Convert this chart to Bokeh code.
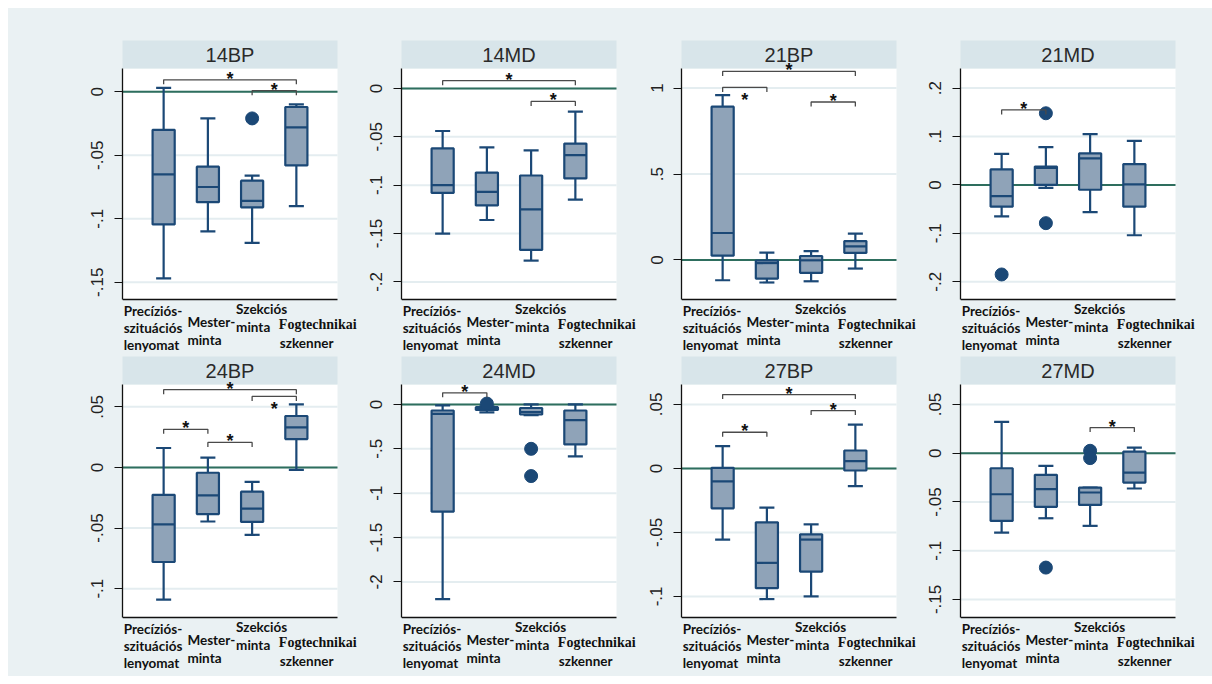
from bokeh.plotting import figure
from bokeh.layouts import row, column
from bokeh.models import Label, FixedTicker, Range1d
from bokeh.embed import file_html
from bokeh.resources import INLINE

# ---------------- data ----------------
PANELS = ["14BP", "14MD", "21BP", "21MD", "24BP", "24MD", "27BP", "27MD"]
CATEGORY_LINES = [["Precíziós-", "szituációs", "lenyomat"],
                  ["Mester-", "minta"],
                  ["Szekciós", "minta"],
                  ["Fogtechnikai", "szkenner"]]
CATS = [1, 2, 3, 4]

WHISKER_HIGH = {
    "14BP": [0.003, -0.021, -0.066, -0.010],
    "14MD": [-0.044, -0.061, -0.064, -0.024],
    "21BP": [0.959, 0.043, 0.052, 0.153],
    "21MD": [0.064, 0.078, 0.105, 0.091],
    "24BP": [0.016, 0.008, -0.012, 0.052],
    "24MD": [-0.010, -0.020, 0.000, 0.000],
    "27BP": [0.0174, -0.0307, -0.0437, 0.0343],
    "27MD": [0.0321, -0.0130, -0.0352, 0.0058],
}
Q3 = {
    "14BP": [-0.030, -0.059, -0.070, -0.012],
    "14MD": [-0.062, -0.087, -0.090, -0.057],
    "21BP": [0.892, -0.003, 0.023, 0.110],
    "21MD": [0.032, 0.038, 0.065, 0.043],
    "24BP": [-0.0226, -0.0044, -0.0200, 0.0424],
    "24MD": [-0.068, -0.030, -0.040, -0.068],
    "27BP": [0.0005, -0.0421, -0.0515, 0.0140],
    "27MD": [-0.0154, -0.0222, -0.0352, 0.0017],
}
MEDIAN = {
    "14BP": [-0.065, -0.075, -0.086, -0.028],
    "14MD": [-0.100, -0.107, -0.125, -0.069],
    "21BP": [0.157, -0.018, -0.002, 0.079],
    "21MD": [-0.023, 0.035, 0.055, 0.001],
    "24BP": [-0.047, -0.023, -0.034, 0.033],
    "24MD": [-0.105, -0.045, -0.085, -0.176],
    "27BP": [-0.0101, -0.0738, -0.0556, 0.0057],
    "27MD": [-0.0421, -0.0369, -0.0403, -0.0198],
}
Q1 = {
    "14BP": [-0.1045, -0.087, -0.091, -0.058],
    "14MD": [-0.108, -0.121, -0.167, -0.093],
    "21BP": [0.025, -0.108, -0.075, 0.041],
    "21MD": [-0.045, 0.000, -0.010, -0.045],
    "24BP": [-0.078, -0.0385, -0.045, 0.0234],
    "24MD": [-1.208, -0.062, -0.113, -0.450],
    "27BP": [-0.0312, -0.0936, -0.0806, -0.0016],
    "27MD": [-0.0694, -0.0550, -0.0530, -0.0301],
}
WHISKER_LOW = {
    "14BP": [-0.147, -0.110, -0.119, -0.090],
    "14MD": [-0.150, -0.136, -0.178, -0.115],
    "21BP": [-0.118, -0.131, -0.124, -0.050],
    "21MD": [-0.065, -0.006, -0.056, -0.104],
    "24BP": [-0.109, -0.0446, -0.0556, -0.002],
    "24MD": [-2.195, -0.090, -0.120, -0.585],
    "27BP": [-0.0556, -0.1021, -0.1000, -0.0138],
    "27MD": [-0.0814, -0.0667, -0.0745, -0.0362],
}
OUTLIER_CAT = {
    "14BP": [3], "14MD": [], "21BP": [], "21MD": [1, 2, 2],
    "24BP": [], "24MD": [2, 3, 3], "27BP": [], "27MD": [2, 3, 3],
}
OUTLIER_VAL = {
    "14BP": [-0.021], "14MD": [], "21BP": [], "21MD": [-0.185, 0.148, -0.079],
    "24BP": [], "24MD": [0.01, -0.50, -0.807], "27BP": [], "27MD": [-0.1173, 0.0025, -0.005],
}
# significance brackets: (from category, to category, height, star below the line?)
BRACKETS = {
    "14BP": [(1, 4, 0.0094, False), (3, 4, 0.0008, False)],
    "14MD": [(1, 4, 0.0080, False), (3, 4, -0.0134, False)],
    "21BP": [(1, 4, 1.097, False), (1, 2, 1.004, True), (3, 4, 0.919, False)],
    "21MD": [(1, 2, 0.155, False)],
    "24BP": [(1, 4, 0.0641, False), (3, 4, 0.0586, True), (1, 2, 0.0314, False), (2, 3, 0.0206, False)],
    "24MD": [(1, 2, 0.131, False)],
    "27BP": [(1, 4, 0.0577, False), (3, 4, 0.0452, False), (1, 2, 0.0283, False)],
    "27MD": [(3, 4, 0.0263, False)],
}
Y_TICKS = {
    "14BP": [-0.15, -0.1, -0.05, 0],
    "14MD": [-0.2, -0.15, -0.1, -0.05, 0],
    "21BP": [0, 0.5, 1],
    "21MD": [-0.2, -0.1, 0, 0.1, 0.2],
    "24BP": [-0.1, -0.05, 0, 0.05],
    "24MD": [-2, -1.5, -1, -0.5, 0],
    "27BP": [-0.1, -0.05, 0, 0.05],
    "27MD": [-0.15, -0.1, -0.05, 0, 0.05],
}
Y_LIMITS = {
    "14BP": (-0.1636, 0.0183),
    "14MD": (-0.2182, 0.0206),
    "21BP": (-0.230, 1.114),
    "21MD": (-0.2367, 0.2405),
    "24BP": (-0.1238, 0.0684),
    "24MD": (-2.401, 0.225),
    "27BP": (-0.1165, 0.0656),
    "27MD": (-0.1685, 0.0705),
}

# ---------------- style / layout ----------------
BG = "#EAF1F3"
BAND = "#D8E5EA"
GRID = "#E4EDF0"
BOX_FILL = "#8FA3B8"
BOX_LINE = "#1B4876"
ZERO = "#2E6E5E"
AXIS = "#111111"
X0, X1 = 0.07, 4.93          # visible plot area in category units
PLOT_W = 215                 # plot area width in px
BAND_H = 28
COL_LEFT = [114, 40, 41, 40]     # left border (y axis room)
COL_EXTRA = [24, 24, 24, 37]     # room right of the plot area for overflowing labels
ROW_GEOM = [(32, 231, 57), (0, 233, 59)]  # top border, plot height, label area height
LABEL_POS = [(-40, [11, 28.5, 45.5]), (-20.5, [22, 40]), (-16, [9.5, 27.5]), (-17.5, [25, 43])]


def fmt(v):
    if v == 0:
        return "0"
    return f"{v:g}".replace("0.", ".")


def make_panel(name, col, rowi):
    top_b, plot_h, lab_h = ROW_GEOM[rowi]
    lb, extra = COL_LEFT[col], COL_EXTRA[col]
    ymin, ytop = Y_LIMITS[name]
    upp = (ytop - ymin) / plot_h  # data units per pixel (y)
    xpp = (X1 - X0) / PLOT_W      # data units per pixel (x)
    band_top = ytop + BAND_H * upp
    y_start = ymin - lab_h * upp
    x_end = X1 + extra * xpp
    w = lb + PLOT_W + extra
    h = top_b + BAND_H + plot_h + lab_h
    p = figure(width=w, height=h, x_range=Range1d(X0, x_end), y_range=Range1d(y_start, band_top),
               output_backend="svg", toolbar_location=None,
               min_border_left=lb, min_border_right=0, min_border_top=top_b, min_border_bottom=0,
               background_fill_color=BG, border_fill_color=BG, outline_line_color=None)
    ticks = Y_TICKS[name]
    p.yaxis.ticker = FixedTicker(ticks=ticks)
    p.yaxis.major_label_overrides = {t: fmt(t) for t in ticks}
    p.yaxis.major_label_orientation = "vertical"
    p.yaxis.major_label_text_font = "Liberation Sans"
    p.yaxis.major_label_text_font_size = "17px"
    p.yaxis.major_label_text_color = "#222222"
    p.yaxis.major_label_standoff = 11
    p.yaxis.major_tick_out = 8
    p.yaxis.major_tick_in = 0
    p.yaxis.minor_tick_line_color = None
    p.yaxis.axis_line_color = AXIS
    p.yaxis.axis_line_width = 1.3
    p.yaxis.major_tick_line_color = AXIS
    p.yaxis.bounds = (ymin, ytop)
    p.xaxis.visible = False
    p.grid.visible = False

    # white plot area and title band
    p.quad(left=X0 - 1, right=X1, bottom=ymin, top=ytop,
           fill_color="white", line_color=None, level="image")
    p.quad(left=X0 - 1, right=X1, bottom=ytop, top=band_top + upp * 3,
           fill_color=BAND, line_color=None, level="image")
    p.add_layout(Label(x=(X0 + X1) / 2, y=(ytop + band_top) / 2, text=name,
                       text_align="center", text_baseline="middle", text_font="Liberation Sans",
                       text_font_size="20px", text_color="#2a2a2a"))

    # horizontal grid lines at the ticks, bottom axis line, zero reference line
    p.segment(x0=[X0] * len(ticks), y0=ticks, x1=[X1] * len(ticks), y1=ticks,
              line_color=GRID, line_width=2)
    p.segment(x0=[X0], y0=[ymin], x1=[X1], y1=[ymin], line_color=AXIS, line_width=1.5)
    p.segment(x0=[X0], y0=[0], x1=[X1], y1=[0], line_color=ZERO, line_width=2)

    hi, q3, med, q1, lo = WHISKER_HIGH[name], Q3[name], MEDIAN[name], Q1[name], WHISKER_LOW[name]
    cap = 0.17
    bw = 0.5
    lw = 2.2
    p.segment(x0=CATS, y0=q3, x1=CATS, y1=hi, line_color=BOX_LINE, line_width=lw)
    p.segment(x0=CATS, y0=q1, x1=CATS, y1=lo, line_color=BOX_LINE, line_width=lw)
    p.segment(x0=[c - cap for c in CATS], y0=hi, x1=[c + cap for c in CATS], y1=hi,
              line_color=BOX_LINE, line_width=lw)
    p.segment(x0=[c - cap for c in CATS], y0=lo, x1=[c + cap for c in CATS], y1=lo,
              line_color=BOX_LINE, line_width=lw)
    p.vbar(x=CATS, width=bw, top=q3, bottom=q1, fill_color=BOX_FILL, line_color=BOX_LINE, line_width=lw)
    p.segment(x0=[c - bw / 2 for c in CATS], y0=med, x1=[c + bw / 2 for c in CATS], y1=med,
              line_color=BOX_LINE, line_width=lw)
    if OUTLIER_CAT[name]:
        p.scatter(x=OUTLIER_CAT[name], y=OUTLIER_VAL[name], size=13, fill_color=BOX_LINE,
                  line_color=BOX_LINE)

    # significance brackets
    tick_d = 4.5 * upp
    xs, ys = [], []
    for a, b, yb, below in BRACKETS[name]:
        xs.append([a, a, b, b])
        ys.append([yb - tick_d, yb, yb, yb - tick_d])
        p.add_layout(Label(x=(a + b) / 2, y=yb, text="*", text_align="center", text_baseline="middle",
                           y_offset=-13 if below else 1, text_font="Liberation Sans",
                           text_font_style="bold", text_font_size="18px", text_color="#111111"))
    if xs:
        p.multi_line(xs=xs, ys=ys, line_color="#4a4a4a", line_width=1.3)

    # category labels below the axis
    for ci, lines in enumerate(CATEGORY_LINES):
        dx, dys = LABEL_POS[ci]
        for li, txt in enumerate(lines):
            serif = txt == "Fogtechnikai"
            p.add_layout(Label(x=CATS[ci], y=ymin, text=txt,
                               x_offset=dx + (1 if (ci == 3 and li == 1) else 0),
                               y_offset=-dys[li], text_align="left", text_baseline="middle",
                               text_font="Liberation Serif" if serif else "Lato",
                               text_font_style="bold",
                               text_font_size="14px" if serif else "13.5px",
                               text_color="#111111"))
    return p


figs = [make_panel(n, i % 4, i // 4) for i, n in enumerate(PANELS)]
layout = column(row(*figs[:4], styles={"background-color": BG}),
                row(*figs[4:], styles={"background-color": BG}),
                styles={"background-color": BG}, margin=(8, 0, 0, 8))
open("out.html", "w").write(file_html(layout, INLINE))
